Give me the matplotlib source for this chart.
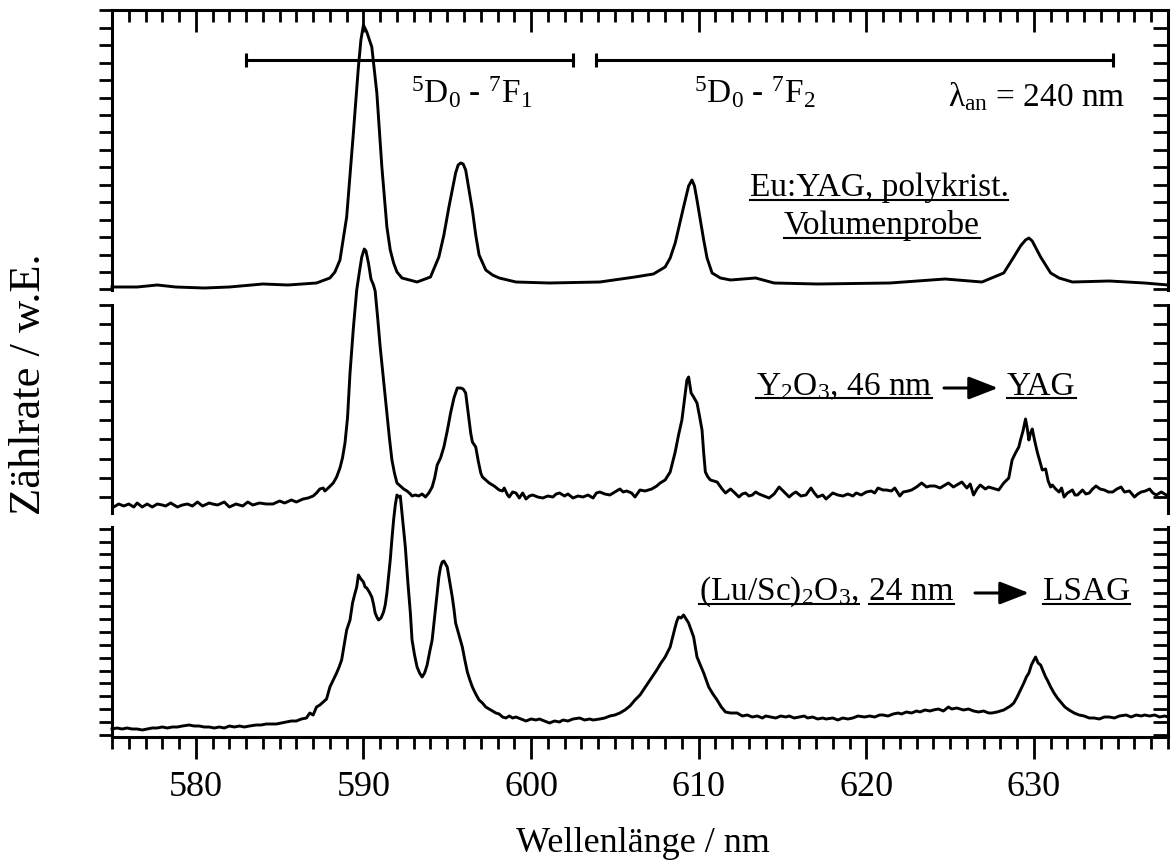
import numpy as np
import matplotlib
matplotlib.use("Agg")
import matplotlib.pyplot as plt
from matplotlib.ticker import MultipleLocator
from matplotlib.lines import Line2D
from matplotlib.patches import FancyArrowPatch

plt.rcParams['font.family'] = ['Liberation Serif', 'DejaVu Serif']
plt.rcParams['mathtext.fontset'] = 'custom'
plt.rcParams['mathtext.rm'] = 'Liberation Serif'
plt.rcParams['mathtext.it'] = 'Liberation Serif:italic'
plt.rcParams['mathtext.bf'] = 'Liberation Serif:bold'

# Emission spectra (wavelength in nm, intensity in arbitrary units), excitation at 240 nm
EU_YAG_BULK = [
    (575.0, 3), (576.5, 3), (577.7, 5), (578.8, 3), (580.5, 2), (582.0, 3), (584.0, 6),
    (585.5, 5), (587.2, 7), (588.0, 12), (588.3, 18), (588.6, 30), (589.0, 73),
    (589.4, 157), (589.7, 223), (589.85, 250), (590.0, 265), (590.2, 258), (590.5, 243),
    (590.8, 197), (591.1, 123), (591.4, 63), (591.6, 40), (591.8, 27), (592.0, 18),
    (592.3, 12), (593.2, 8), (594.0, 13), (594.5, 33), (594.8, 55), (595.1, 83),
    (595.5, 117), (595.65, 125), (595.8, 127), (595.95, 126), (596.1, 120), (596.5, 80),
    (596.7, 55), (596.9, 35), (597.3, 20), (597.7, 15), (598.1, 12), (599.1, 8),
    (601.1, 7), (604.1, 8), (606.2, 13), (607.3, 16), (608.0, 23), (608.3, 32),
    (608.6, 47), (609.1, 83), (609.4, 104), (609.6, 110), (609.75, 104), (609.9, 90),
    (610.3, 50), (610.5, 32), (610.8, 17), (611.3, 12), (611.9, 10), (613.4, 12),
    (614.5, 7), (617.1, 6), (621.4, 7), (624.7, 11), (626.9, 8), (628.2, 17),
    (628.8, 33), (629.2, 44), (629.5, 50), (629.7, 52), (629.9, 49), (630.4, 33),
    (631.0, 17), (631.5, 12), (632.3, 8), (634.5, 9), (636.6, 7), (638.0, 5),
]

Y2O3_TO_YAG = [
    (575.1, 6), (575.4, 9), (575.7, 7), (576.0, 9), (576.3, 6), (576.5, 10), (576.8, 6),
    (577.1, 9), (577.4, 6), (577.7, 9), (578.0, 8), (578.2, 7), (578.5, 10), (578.9, 6),
    (579.2, 8), (579.5, 9), (579.8, 7), (580.1, 11), (580.4, 7), (580.8, 10), (581.0, 9),
    (581.3, 8), (581.7, 11), (582.0, 6), (582.4, 9), (582.8, 7), (583.1, 11), (583.4, 8),
    (583.8, 10), (584.2, 9), (584.6, 9), (585.0, 12), (585.3, 10), (585.7, 13), (586.0, 11),
    (586.4, 14), (586.7, 15), (587.0, 17), (587.2, 20), (587.4, 24), (587.6, 25),
    (587.7, 22), (587.9, 25), (588.2, 30), (588.4, 36), (588.6, 45), (588.75, 55),
    (588.9, 70), (589.05, 95), (589.2, 140), (589.4, 185), (589.6, 223), (589.75, 240),
    (589.9, 256), (590.05, 264), (590.15, 262), (590.3, 250), (590.45, 234), (590.6, 228),
    (590.7, 222), (590.85, 195), (591.0, 166), (591.2, 133), (591.4, 100), (591.55, 75),
    (591.7, 53), (591.85, 40), (592.0, 30), (592.2, 27), (592.4, 24), (592.6, 22),
    (592.8, 19), (592.9, 17), (593.1, 18), (593.3, 17), (593.5, 19), (593.7, 16),
    (593.9, 20), (594.1, 26), (594.25, 35), (594.4, 48), (594.6, 55), (594.8, 66),
    (595.0, 82), (595.2, 100), (595.4, 115), (595.6, 125), (595.8, 125), (595.95, 124),
    (596.1, 120), (596.25, 100), (596.4, 80), (596.5, 71), (596.7, 66), (596.85, 52),
    (597.0, 40), (597.1, 36), (597.3, 33), (597.5, 30), (597.8, 27), (598.1, 23),
    (598.3, 22), (598.4, 25), (598.6, 18), (598.7, 16), (598.9, 21), (599.1, 20),
    (599.3, 15), (599.5, 20), (599.7, 14), (599.9, 17), (600.1, 18), (600.4, 16),
    (600.7, 15), (601.0, 17), (601.3, 16), (601.5, 19), (601.7, 20), (602.0, 17),
    (602.2, 19), (602.5, 15), (602.8, 17), (603.1, 16), (603.4, 18), (603.7, 15),
    (603.9, 20), (604.1, 21), (604.4, 19), (604.7, 18), (605.0, 21), (605.3, 24),
    (605.5, 21), (605.7, 22), (606.0, 20), (606.2, 16), (606.5, 23), (606.8, 22),
    (607.0, 23), (607.2, 24), (607.5, 27), (607.7, 30), (608.0, 33), (608.3, 41),
    (608.6, 61), (608.8, 78), (609.0, 93), (609.15, 113), (609.3, 133), (609.4, 136),
    (609.55, 120), (609.7, 116), (609.9, 110), (610.05, 97), (610.2, 83), (610.3, 60),
    (610.4, 41), (610.55, 36), (610.7, 33), (610.9, 32), (611.1, 31), (611.4, 24),
    (611.6, 20), (611.9, 24), (612.1, 21), (612.4, 16), (612.6, 19), (612.8, 20),
    (613.0, 17), (613.2, 18), (613.4, 21), (613.6, 19), (613.9, 17), (614.2, 15),
    (614.5, 19), (614.8, 26), (615.1, 21), (615.4, 16), (615.6, 19), (615.8, 21),
    (616.1, 17), (616.4, 18), (616.7, 25), (616.9, 20), (617.1, 16), (617.4, 18),
    (617.6, 14), (618.0, 20), (618.3, 18), (618.6, 17), (618.9, 19), (619.2, 17),
    (619.4, 20), (619.7, 18), (620.0, 21), (620.3, 22), (620.5, 20), (620.7, 25),
    (621.0, 23), (621.2, 23), (621.5, 22), (621.7, 25), (622.0, 17), (622.2, 21),
    (622.5, 22), (622.7, 23), (623.0, 26), (623.3, 30), (623.6, 26), (623.8, 27),
    (624.1, 27), (624.4, 25), (624.7, 28), (624.9, 30), (625.2, 26), (625.5, 29),
    (625.7, 31), (626.0, 25), (626.2, 29), (626.4, 18), (626.6, 24), (626.8, 28),
    (627.1, 24), (627.3, 26), (627.5, 25), (627.9, 23), (628.2, 30), (628.5, 35),
    (628.7, 53), (628.9, 60), (629.1, 66), (629.2, 73), (629.35, 82), (629.5, 94),
    (629.6, 85), (629.7, 73), (629.8, 80), (629.9, 84), (630.05, 72), (630.2, 61),
    (630.35, 52), (630.5, 43), (630.7, 44), (630.85, 32), (631.0, 26), (631.1, 28),
    (631.3, 24), (631.5, 21), (631.65, 25), (631.8, 16), (632.0, 20), (632.3, 23),
    (632.45, 18), (632.6, 18), (632.9, 23), (633.1, 19), (633.3, 20), (633.5, 24),
    (633.7, 27), (633.95, 24), (634.2, 23), (634.45, 21), (634.7, 21), (634.95, 24),
    (635.2, 26), (635.4, 21), (635.7, 22), (636.0, 16), (636.2, 19), (636.4, 21),
    (636.65, 22), (636.9, 24), (637.1, 20), (637.3, 18), (637.6, 21), (637.9, 18),
]

LUSC2O3_TO_LSAG = [
    (575.0, 8), (575.3, 9), (575.6, 8), (575.9, 9), (576.2, 8), (576.5, 8), (576.8, 7),
    (577.1, 8), (577.4, 9), (577.7, 9), (578.0, 10), (578.3, 9), (578.6, 10), (578.9, 10),
    (579.2, 11), (579.6, 12), (579.9, 11), (580.2, 11), (580.5, 10), (580.8, 10),
    (581.1, 9), (581.4, 10), (581.7, 9), (582.0, 11), (582.3, 10), (582.6, 11),
    (582.9, 10), (583.2, 11), (583.6, 12), (583.9, 12), (584.2, 13), (584.5, 13),
    (584.8, 13), (585.1, 14), (585.4, 15), (585.7, 16), (586.0, 16), (586.3, 18),
    (586.6, 19), (586.8, 24), (587.0, 22), (587.2, 30), (587.4, 32), (587.6, 35),
    (587.8, 38), (588.0, 50), (588.2, 57), (588.4, 64), (588.55, 70), (588.7, 77),
    (588.85, 92), (589.0, 107), (589.1, 112), (589.2, 117), (589.35, 134), (589.5, 144),
    (589.6, 150), (589.7, 162), (589.85, 158), (590.0, 155), (590.1, 150), (590.2, 149),
    (590.35, 145), (590.5, 140), (590.6, 133), (590.7, 124), (590.8, 120), (590.9, 117),
    (591.05, 119), (591.2, 125), (591.3, 132), (591.4, 144), (591.5, 160), (591.6, 177),
    (591.7, 198), (591.8, 217), (591.9, 232), (592.0, 242), (592.1, 240), (592.2, 241),
    (592.3, 224), (592.4, 208), (592.5, 190), (592.65, 155), (592.8, 124), (592.9, 97),
    (593.05, 82), (593.2, 70), (593.35, 64), (593.5, 60), (593.65, 64), (593.8, 72),
    (593.95, 85), (594.1, 97), (594.25, 120), (594.4, 144), (594.5, 160), (594.6, 170),
    (594.7, 175), (594.8, 176), (594.9, 173), (595.0, 170), (595.15, 155), (595.3, 140),
    (595.4, 128), (595.5, 114), (595.7, 102), (595.9, 90), (596.05, 77), (596.2, 65),
    (596.35, 57), (596.5, 50), (596.7, 43), (596.9, 37), (597.1, 34), (597.3, 30),
    (597.5, 28), (597.7, 26), (597.9, 24), (598.1, 23), (598.3, 20), (598.5, 19),
    (598.7, 21), (598.9, 19), (599.1, 20), (599.4, 18), (599.7, 16), (600.0, 18),
    (600.3, 17), (600.5, 18), (600.8, 16), (601.1, 14), (601.4, 16), (601.7, 15),
    (601.9, 17), (602.2, 16), (602.5, 18), (602.9, 19), (603.2, 17), (603.5, 18),
    (603.7, 17), (604.1, 18), (604.4, 19), (604.7, 21), (605.0, 22), (605.3, 24),
    (605.6, 27), (605.9, 31), (606.2, 37), (606.5, 42), (606.7, 47), (606.9, 52),
    (607.1, 57), (607.3, 62), (607.5, 67), (607.75, 74), (608.0, 80), (608.15, 85),
    (608.3, 90), (608.45, 100), (608.6, 110), (608.7, 116), (608.8, 120), (608.95, 119),
    (609.1, 122), (609.25, 118), (609.4, 114), (609.55, 107), (609.7, 100), (609.8, 90),
    (609.9, 80), (610.1, 72), (610.3, 64), (610.45, 57), (610.6, 50), (610.85, 43),
    (611.1, 37), (611.35, 30), (611.6, 25), (611.9, 24), (612.3, 24), (612.6, 21),
    (612.9, 22), (613.2, 20), (613.5, 21), (613.8, 19), (614.0, 21), (614.3, 20),
    (614.6, 19), (614.9, 21), (615.2, 20), (615.4, 21), (615.7, 19), (616.0, 20),
    (616.3, 21), (616.5, 19), (616.8, 20), (617.1, 18), (617.4, 19), (617.6, 18),
    (618.0, 19), (618.3, 17), (618.6, 19), (618.9, 18), (619.2, 19), (619.5, 21),
    (619.9, 20), (620.2, 21), (620.5, 20), (620.8, 22), (621.0, 22), (621.3, 21),
    (621.6, 23), (621.9, 24), (622.1, 23), (622.4, 25), (622.7, 24), (623.0, 26),
    (623.2, 25), (623.5, 27), (623.8, 26), (624.0, 27), (624.3, 28), (624.6, 26),
    (624.9, 30), (625.1, 28), (625.4, 29), (625.8, 27), (626.1, 28), (626.4, 26),
    (626.7, 25), (627.0, 26), (627.3, 24), (627.5, 24), (627.8, 25), (628.0, 26),
    (628.2, 27), (628.4, 29), (628.6, 31), (628.8, 34), (629.0, 40), (629.2, 47),
    (629.4, 54), (629.55, 60), (629.7, 64), (629.85, 72), (630.0, 77), (630.1, 80),
    (630.25, 74), (630.4, 72), (630.55, 66), (630.7, 60), (630.8, 57), (631.0, 50),
    (631.2, 44), (631.4, 39), (631.6, 35), (631.85, 30), (632.1, 27), (632.4, 24),
    (632.7, 22), (633.0, 21), (633.3, 19), (633.6, 19), (633.9, 18), (634.2, 20),
    (634.5, 20), (634.8, 19), (635.1, 21), (635.5, 22), (635.8, 20), (636.1, 22),
    (636.4, 21), (636.6, 22), (636.9, 21), (637.2, 22), (637.5, 20), (637.8, 21),
    (638.0, 20),
]

# Spectral ranges of the Eu3+ transitions
TRANSITION_5D0_7F1 = (583.0, 602.5)
TRANSITION_5D0_7F2 = (603.9, 634.7)

X_MIN, X_MAX = 575, 638

W, H = 1171, 868
fig = plt.figure(figsize=(W / 100, H / 100), dpi=100)
fig.patch.set_facecolor('white')


def px_box(top, bottom, left=112, right=1168):
    return [left / W, 1 - bottom / H, (right - left) / W, (bottom - top) / H]


def px(x, y):
    return x / W, 1 - y / H


LW_SPINE = 2.2
TICK_W = 2.0
FS_AX = 26
FS_TXT = 24

panels = [
    # (box in pixels, y range, tick step, tick offset, data)
    ((10, 290), (0, 280), 17.45, 18.0, EU_YAG_BULK),
    ((305, 513), (0, 208), 19.2, 16.0, Y2O3_TO_YAG),
    ((527, 737), (0, 210), 12.9, 2.0, LUSC2O3_TO_LSAG),
]

axes = []
for i, ((t, b), ylim, step, off, data) in enumerate(panels):
    ax = fig.add_axes(px_box(t, b))
    ax.set_facecolor('none')
    ax.set_xlim(X_MIN, X_MAX)
    ax.set_ylim(*ylim)
    arr = np.array(data, dtype=float)
    ax.plot(arr[:, 0], arr[:, 1], color='black', lw=2.1, clip_on=False,
            solid_joinstyle='round', zorder=5)

    for s in ax.spines.values():
        s.set_linewidth(LW_SPINE)
    ax.spines['top'].set_visible(i == 0)
    ax.spines['bottom'].set_visible(i == 2)
    ax.spines['right'].set_visible(False)

    ax.yaxis.set_major_locator(MultipleLocator(step, offset=off))
    ax.tick_params(axis='y', which='major', direction='out', length=9.4,
                   width=TICK_W, left=True, right=False, labelleft=False)
    ax.tick_params(axis='y', which='minor', left=False, right=False)

    ax.xaxis.set_major_locator(MultipleLocator(10))
    ax.xaxis.set_minor_locator(MultipleLocator(1))
    if i == 0:
        ax.tick_params(axis='x', which='both', direction='in', top=True, bottom=False,
                       labeltop=False, labelbottom=False, width=TICK_W)
        ax.tick_params(axis='x', which='major', length=15.8)
        ax.tick_params(axis='x', which='minor', length=8.6)
    elif i == 2:
        ax.tick_params(axis='x', which='both', direction='out', top=False, bottom=True,
                       labelbottom=True, width=TICK_W)
        ax.tick_params(axis='x', which='major', length=15.8, pad=9, labelsize=FS_AX)
        ax.tick_params(axis='x', which='minor', length=8.6)
    else:
        ax.tick_params(axis='x', which='both', top=False, bottom=False,
                       labelbottom=False)

    # right-hand axis with inward ticks
    rx = ax.twinx()
    rx.set_ylim(*ylim)
    rx.set_facecolor('none')
    for name, s in rx.spines.items():
        s.set_visible(name == 'right')
        s.set_linewidth(LW_SPINE)
    rx.yaxis.set_major_locator(MultipleLocator(step, offset=off))
    rx.tick_params(axis='y', which='major', direction='in', length=10.8,
                   width=TICK_W, right=True, left=False, labelright=False)
    rx.tick_params(axis='y', which='minor', right=False)
    axes.append(ax)

ax_top = axes[0]

# transition ranges with end caps
bar_y = 1 - (60 - 10) / 280
for lo, hi in (TRANSITION_5D0_7F1, TRANSITION_5D0_7F2):
    ax_top.plot([lo, hi], [bar_y, bar_y], color='black', lw=2.2,
                transform=ax_top.get_xaxis_transform(), clip_on=False, zorder=6,
                marker='|', markersize=9.5, markeredgewidth=2.2, markevery=[0, 1])

fig.text(*px(472, 103), r'$^5$D$_0$ - $^7$F$_1$', fontsize=FS_TXT, ha='center', va='baseline')
fig.text(*px(755, 103), r'$^5$D$_0$ - $^7$F$_2$', fontsize=FS_TXT, ha='center', va='baseline')
fig.text(*px(1125, 106), r'λ$_{\rm an}$ = 240 nm', fontsize=FS_TXT, ha='right', va='baseline')

underlined = []
underlined.append(fig.text(*px(879, 196), 'Eu:YAG, polykrist.', fontsize=FS_TXT,
                           ha='center', va='baseline'))
underlined.append(fig.text(*px(882, 234), 'Volumenprobe', fontsize=FS_TXT,
                           ha='center', va='baseline'))
underlined.append(fig.text(*px(756, 395), r'Y$_2$O$_3$, 46 nm', fontsize=FS_TXT,
                           ha='left', va='baseline'))
underlined.append(fig.text(*px(1007, 395), 'YAG', fontsize=FS_TXT,
                           ha='left', va='baseline'))
underlined.append(fig.text(*px(699, 600), r'(Lu/Sc)$_2$O$_3$,', fontsize=FS_TXT,
                           ha='left', va='baseline'))
underlined.append(fig.text(*px(869, 600), '24 nm', fontsize=FS_TXT,
                           ha='left', va='baseline'))
underlined.append(fig.text(*px(1043, 600), 'LSAG', fontsize=FS_TXT,
                           ha='left', va='baseline'))

arrow_kw = dict(arrowstyle='-|>,head_length=0.9,head_width=0.35', color='black',
                lw=2.2, shrinkA=0, shrinkB=0)
fig.add_artist(FancyArrowPatch(px(944, 388), px(998, 388), transform=fig.transFigure,
                               mutation_scale=20, **arrow_kw))
fig.add_artist(FancyArrowPatch(px(975, 593), px(1029, 593), transform=fig.transFigure,
                               mutation_scale=20, **arrow_kw))

fig.text(*px(29, 384), 'Zählrate / w.E.', fontsize=32, rotation=90,
         ha='center', va='center')
fig.text(*px(643, 843), 'Wellenlänge / nm', fontsize=FS_AX, ha='center', va='center')

fig.canvas.draw()
renderer = fig.canvas.get_renderer()
inv = fig.transFigure.inverted()
for t in underlined:
    bb = t.get_window_extent(renderer)
    x0, y_base = t.get_position()
    base_disp = fig.transFigure.transform((x0, y_base))[1]
    y_line = base_disp - 3.5
    p0 = inv.transform((bb.x0, y_line))
    p1 = inv.transform((bb.x1, y_line))
    fig.add_artist(Line2D([p0[0], p1[0]], [p0[1], p1[1]], color='black', lw=1.5,
                          transform=fig.transFigure))

fig.savefig('out.png', dpi=100, facecolor='white')
